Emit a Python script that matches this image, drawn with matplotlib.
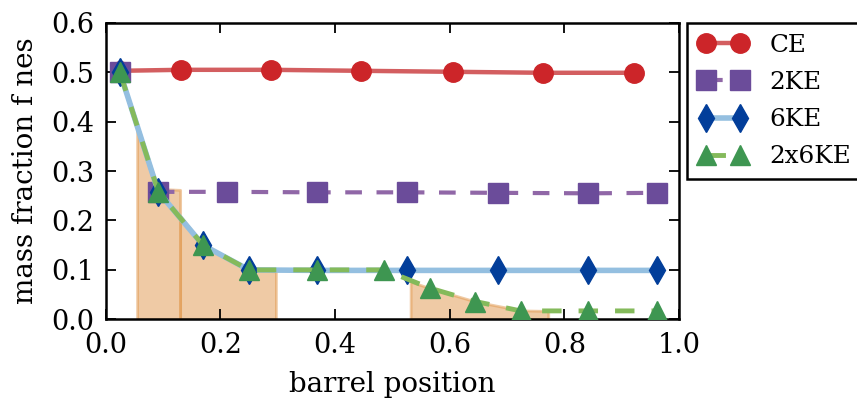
import matplotlib
matplotlib.use("Agg")
import matplotlib.pyplot as plt

# Data
ce_x = [0.025, 0.131, 0.288, 0.446, 0.605, 0.763, 0.921]
ce_y = [0.503, 0.505, 0.505, 0.503, 0.501, 0.499, 0.499]

ke2_x = [0.025, 0.092, 0.211, 0.368, 0.526, 0.685, 0.842, 0.961]
ke2_y = [0.500, 0.258, 0.258, 0.257, 0.257, 0.256, 0.255, 0.256]

ke6_x = [0.025, 0.092, 0.170, 0.250, 0.368, 0.526, 0.685, 0.842, 0.961]
ke6_y = [0.500, 0.258, 0.150, 0.100, 0.099, 0.099, 0.099, 0.099, 0.099]

ke26_x = [0.025, 0.092, 0.170, 0.250, 0.368, 0.486, 0.566, 0.645, 0.724, 0.842, 0.961]
ke26_y = [0.500, 0.258, 0.150, 0.100, 0.100, 0.100, 0.063, 0.036, 0.017, 0.017, 0.017]

# shaded fines regions
fill1_x = [0.055, 0.092, 0.130]
fill1_y = [0.385, 0.264, 0.262]
fill2_x = [0.130, 0.170, 0.250, 0.297]
fill2_y = [0.210, 0.150, 0.100, 0.097]
fill3_x = [0.532, 0.566, 0.645, 0.724, 0.772]
fill3_y = [0.076, 0.063, 0.036, 0.018, 0.017]

labels = ["CE", "2KE", "6KE", "2x6KE"]

plt.rcParams["font.family"] = "DejaVu Serif"

fig = plt.figure(figsize=(8.57, 4.05), dpi=100)
ax = fig.add_axes([0.1232, 0.2116, 0.6691, 0.7319])

for fx, fy in [(fill1_x, fill1_y), (fill2_x, fill2_y), (fill3_x, fill3_y)]:
    ax.fill_between(fx, 0, fy, color="#E1974C", alpha=0.5, linewidth=2, zorder=1)

ms = 14
ax.plot(ce_x, ce_y, color="#D35E60", lw=3.2, marker="o", ms=ms,
        mfc="#CC2529", mec="#CC2529", label=labels[0], zorder=3)
ax.plot(ke2_x, ke2_y, color="#9067A7", lw=3, ls=(0, (4, 3.5)), marker="s", ms=ms,
        mfc="#6B4C9A", mec="#6B4C9A", label=labels[1], zorder=3)
ax.plot(ke6_x, ke6_y, color="#94BFE0", lw=4, marker="d", ms=ms,
        mfc="#023E9A", mec="#023E9A", label=labels[2], zorder=3)
ax.plot(ke26_x, ke26_y, color="#84BA5B", lw=3.5, ls=(0, (4, 3.5)), marker="^", ms=15,
        mfc="#3E9651", mec="#3E9651", label=labels[3], zorder=3)

ax.set_xlim(0, 1.0)
ax.set_ylim(0, 0.6)
ax.set_xticks([0.0, 0.2, 0.4, 0.6, 0.8, 1.0])
ax.set_yticks([0.0, 0.1, 0.2, 0.3, 0.4, 0.5, 0.6])
ax.tick_params(direction="in", top=True, right=True, length=7, width=1.3,
               labelsize=19.5)
ax.tick_params(axis="y", pad=8)
ax.tick_params(axis="x", pad=9)
for s in ax.spines.values():
    s.set_linewidth(1.8)

ax.set_xlabel("barrel position", fontsize=20, labelpad=9)
ax.set_ylabel("mass fraction f nes", fontsize=20, labelpad=9)

leg = ax.legend(loc="upper left", bbox_to_anchor=(1.0145, 1.0), borderaxespad=0,
                numpoints=2, fontsize=17.8, handlelength=2.0, handletextpad=0.87,
                labelspacing=0.57, borderpad=0.45, fancybox=False, framealpha=1)
leg.get_frame().set_edgecolor("black")
leg.get_frame().set_linewidth(1.8)

fig.savefig("out.png", dpi=100)
